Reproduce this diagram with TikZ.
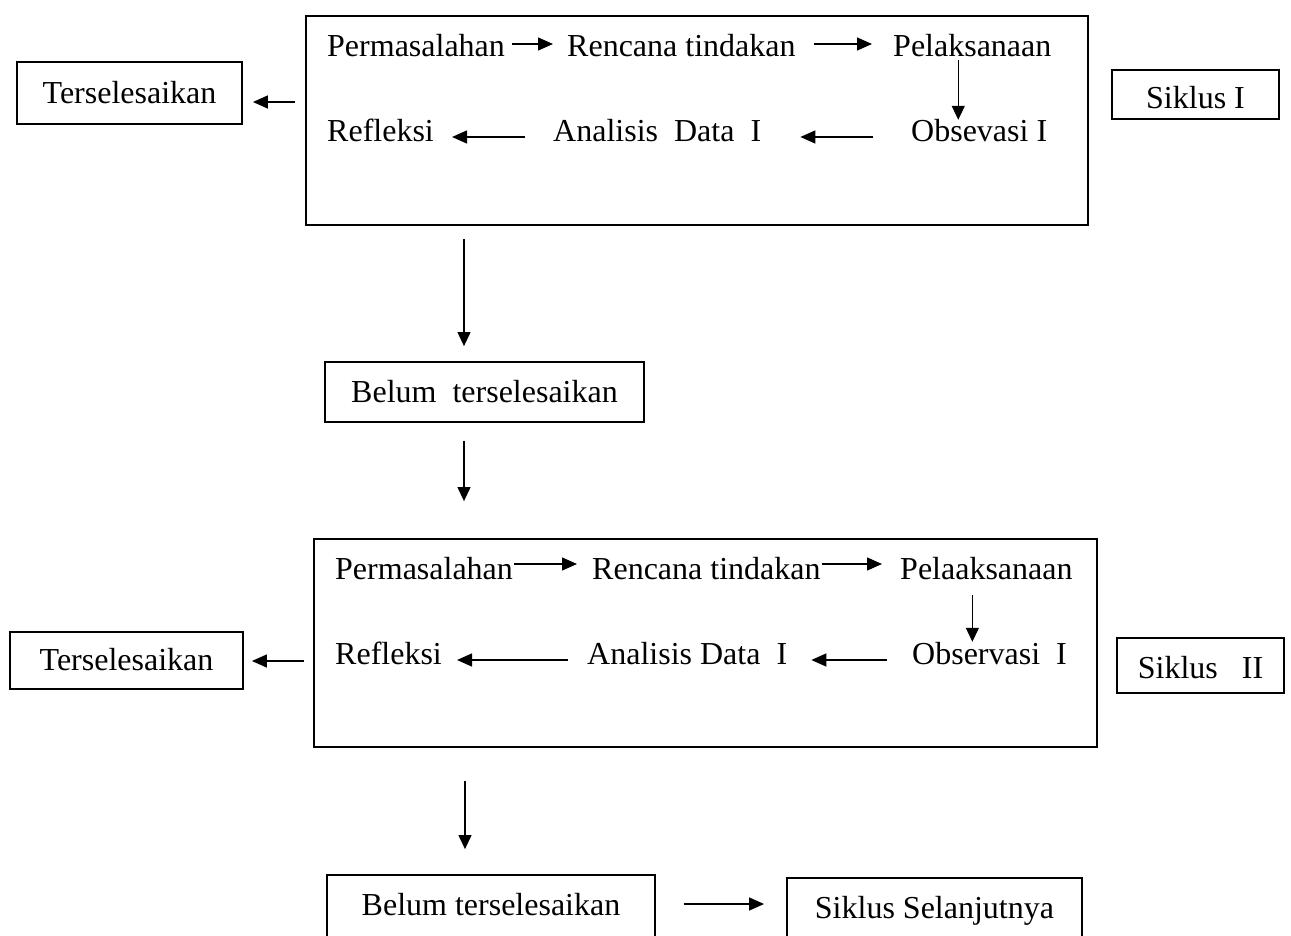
\documentclass[tikz,border=0pt]{standalone}
\usepackage{fontspec}
\setmainfont{Liberation Serif}
\usetikzlibrary{arrows.meta}
\tikzset{
  teks/.style={anchor=base west,inner sep=0pt,text height=22pt,text depth=7pt},
  kotak/.style={draw,line width=1.8pt,inner sep=0pt,text height=22pt,text depth=7pt},
  panah/.style={line width=1.4pt,-{Triangle[length=15pt,width=13pt]}},
  panahtipis/.style={line width=1.2pt,-{Triangle[length=14pt,width=13pt]}}
}

\begin{document}
\begin{tikzpicture}[x=1pt,y=-1pt,every node/.style={font=\fontsize{32pt}{36pt}\selectfont}]
  \useasboundingbox (0,0) rectangle (1291,936);
  \clip (0,0) rectangle (1291,936);
  % siklus I
  \node[kotak,minimum width=782pt,minimum height=209pt] (box1) at (697,120.5) {};
  \node[teks] (perm1) at (327,57) {Permasalahan};
  \node[teks] (renc1) at (567,57) {Rencana tindakan};
  \node[teks] (pel1) at (893,57) {Pelaksanaan};
  \node[teks] (refl1) at (327,142) {Refleksi};
  \node[teks] (anal1) at (553,142) {Analisis~~Data~~I};
  \node[teks] (obs1) at (911,142) {Obsevasi I};
  \node[kotak,minimum width=225pt,minimum height=62pt,text height=28pt] (selesai1) at (129.5,93) {Terselesaikan};
  \node[kotak,minimum width=167pt,minimum height=49pt,text height=36pt] (siklus1) at (1195.5,94.5) {Siklus I};
  \node[kotak,minimum width=319pt,minimum height=60pt,text height=28pt] (belum1) at (484.5,392) {Belum~~terselesaikan};
  \draw[panah] ([xshift=7pt,yshift=5.5pt]perm1.east) -- ([xshift=-14pt,yshift=5.5pt]renc1.west);
  \draw[panah] ([xshift=18pt,yshift=5.5pt]renc1.east) -- ([xshift=-21pt,yshift=5.5pt]pel1.west);
  \coordinate (v1) at ([xshift=-14pt,yshift=4pt]pel1.south);
  \draw[panahtipis] (v1) -- (v1 |- obs1.north);
  \draw[panah] ([xshift=-38pt,yshift=-2.5pt]obs1.west) -- ([xshift=39pt,yshift=-2.5pt]anal1.east);
  \draw[panah] ([xshift=-28pt,yshift=-2.5pt]anal1.west) -- ([xshift=18pt,yshift=-2.5pt]refl1.east);
  \draw[panah] ([xshift=-10pt,yshift=18.5pt]box1.west) -- ([xshift=10pt,yshift=-9pt]selesai1.east);
  \draw[panahtipis] ([xshift=-233pt,yshift=-13pt]box1.south) -- ([xshift=-20.5pt,yshift=15pt]belum1.north);
  % siklus II
  \node[kotak,minimum width=783pt,minimum height=208pt] (box2) at (705.5,643) {};
  \node[teks] (perm2) at (335,579) {Permasalahan};
  \node[teks] (renc2) at (592,579) {Rencana tindakan};
  \node[teks] (pel2) at (900,579) {Pelaaksanaan};
  \node[teks] (refl2) at (335,664) {Refleksi};
  \node[teks] (anal2) at (587,664) {Analisis Data~~I};
  \node[teks] (obs2) at (912,664) {Observasi~~I};
  \node[kotak,minimum width=233pt,minimum height=57pt,text height=26pt] (selesai2) at (126.5,660.5) {Terselesaikan};
  \node[kotak,minimum width=167pt,minimum height=55pt,text height=32pt] (siklus2) at (1200.5,665.5) {Siklus~~~II};
  \node[kotak,minimum width=328pt,minimum height=66pt] (belum2) at (491,908) {Belum terselesaikan};
  \node[kotak,minimum width=295pt,minimum height=66pt] (lanjut) at (934.5,911) {Siklus Selanjutnya};
  \draw[panahtipis] ([xshift=-20.5pt,yshift=-18pt]belum1.south) -- ([xshift=-241.5pt,yshift=37pt]box2.north);
  \draw[panah] ([xshift=1pt,yshift=7.5pt]perm2.east) -- ([xshift=-15pt,yshift=7.5pt]renc2.west);
  \draw[panah] ([xshift=1pt,yshift=7.5pt]renc2.east) -- ([xshift=-18pt,yshift=7.5pt]pel2.west);
  \coordinate (v2) at ([xshift=-14pt,yshift=-9pt]pel2.south);
  \draw[panahtipis] (v2) -- (v2 |- obs2.north);
  \draw[panah] ([xshift=-25pt,yshift=-3.5pt]obs2.west) -- ([xshift=24pt,yshift=-3.5pt]anal2.east);
  \draw[panah] ([xshift=-19pt,yshift=-3.5pt]anal2.west) -- ([xshift=15pt,yshift=-3.5pt]refl2.east);
  \draw[panah] ([xshift=-9pt,yshift=-18pt]box2.west) -- ([xshift=8pt,yshift=-0.5pt]selesai2.east);
  \draw[panahtipis] ([xshift=-240.5pt,yshift=-33pt]box2.south) -- ([xshift=-26pt,yshift=25pt]belum2.north);
  \draw[panah] ([xshift=28pt,yshift=4pt]belum2.east) -- ([xshift=-22pt,yshift=7pt]lanjut.west);
\end{tikzpicture}
\end{document}
